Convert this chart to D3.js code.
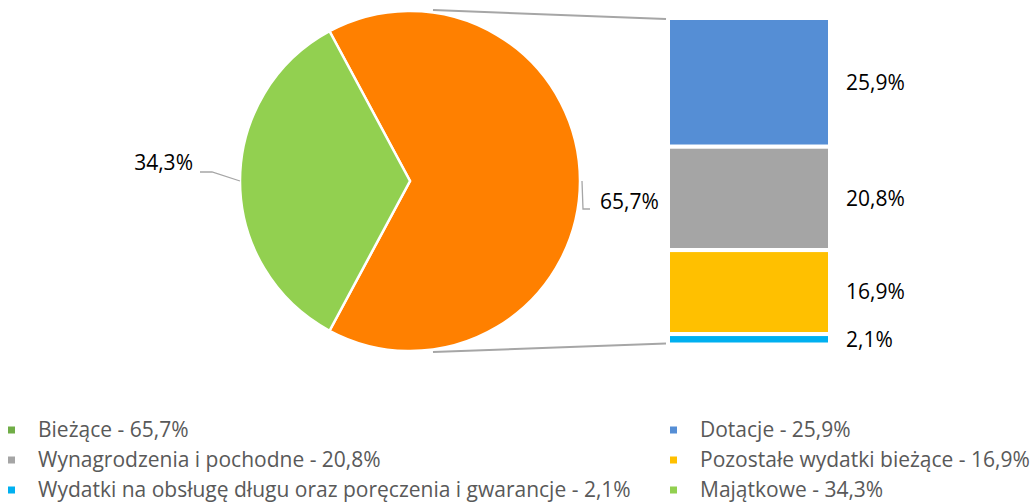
<!DOCTYPE html>
<html>
<head>
<meta charset="utf-8">
<script src="https://cdn.jsdelivr.net/npm/d3@7"></script>
<style>
  body { margin: 0; background: #fff; }
  text { font-family: "Open Sans", sans-serif; }
</style>
</head>
<body>
<svg width="1032" height="502"></svg>
<script>
// pie: Bieżące vs Majątkowe
const pie_names = ['Bieżące', 'Majątkowe'],
    pie_values = [65.7, 34.3],
    pie_colors = ['#ff8000', '#92d050']

// bar: breakdown of Bieżące
const bar_names = ['Dotacje', 'Wynagrodzenia i pochodne', 'Pozostałe wydatki bieżące',
        'Wydatki na obsługę długu oraz poręczenia i gwarancje'],
    bar_values = [25.9, 20.8, 16.9, 2.1],
    bar_colors = ['#558ed5', '#a5a5a5', '#ffc000', '#00b0f0']

// legend, in the order shown (two columns)
const legend_items = [
    { label: 'Bieżące - 65,7%', color: '#70ad47' },
    { label: 'Dotacje - 25,9%', color: '#558ed5' },
    { label: 'Wynagrodzenia i pochodne - 20,8%', color: '#a5a5a5' },
    { label: 'Pozostałe wydatki bieżące - 16,9%', color: '#ffc000' },
    { label: 'Wydatki na obsługę długu oraz poręczenia i gwarancje - 2,1%', color: '#00b0f0' },
    { label: 'Majątkowe - 34,3%', color: '#92d050' }
]

const fmt = (v) => d3.format('.1f')(v).replace('.', ',') + '%'
const line_color = '#a6a6a6',
    font_size = '21px'

const svg = d3.select('svg'),
    cx = 410, cy = 181, radius = 170

// ---- pie ----
// Majątkowe is centred on the left, Bieżące starts where it ends (top) and runs clockwise
const green_half = pie_values[1] / 100 * Math.PI
const start = -Math.PI / 2 + green_half
const arcs = d3.pie().sort(null)
    .startAngle(start)
    .endAngle(start + Math.PI * 2)
    .value((d) => d)(pie_values)

const arc = d3.arc().innerRadius(0).outerRadius(radius)
const g = svg.append('g').attr('transform', `translate(${cx},${cy})`)

g.selectAll('path.slice')
    .data(arcs)
    .enter().append('path')
    .attr('class', 'slice')
    .attr('d', arc)
    .style('fill', (d, i) => pie_colors[i])
    .style('stroke', 'white')
    .style('stroke-width', 2.5)

// pie labels with leader lines
const mid = (d) => (d.startAngle + d.endAngle) / 2
const px = (a, r) => Math.sin(a) * r, py = (a, r) => -Math.cos(a) * r

// Majątkowe (left)
{
    const a = mid(arcs[1]), x0 = px(a, radius), y0 = py(a, radius)
    g.append('path')
        .attr('d', `M${x0},${y0}L${x0 - 28},${y0 - 9}L${x0 - 40},${y0 - 9}`)
        .style('fill', 'none').style('stroke', line_color).style('stroke-width', 1.3)
    g.append('text')
        .attr('x', x0 - 47).attr('y', y0 - 18).attr('dy', '0.35em')
        .attr('text-anchor', 'end').style('font-size', font_size)
        .text(fmt(pie_values[1]))
}
// Bieżące (right)
{
    const a = mid(arcs[0]), x0 = px(a, radius), y0 = py(a, radius)
    g.append('path')
        .attr('d', `M${x0 + 2},${y0}L${x0 + 3},${y0 + 28}L${x0 + 10},${y0 + 28}`)
        .style('fill', 'none').style('stroke', line_color).style('stroke-width', 1.3)
    g.append('text')
        .attr('x', x0 + 20).attr('y', y0 + 21).attr('dy', '0.35em')
        .style('font-size', font_size)
        .text(fmt(pie_values[0]))
}

// ---- stacked bar ----
const bar_x = 668, bar_w = 162
const total = d3.sum(bar_values)
const yb = d3.scaleLinear().domain([0, total]).range([18, 344.5])
const cum = d3.cumsum(bar_values)
const segs = bar_values.map((v, i) => ({ v: v, y0: cum[i] - v, y1: cum[i], col: bar_colors[i] }))

svg.selectAll('rect.seg')
    .data(segs)
    .enter().append('rect')
    .attr('class', 'seg')
    .attr('x', bar_x).attr('width', bar_w)
    .attr('y', (d) => yb(d.y0))
    .attr('height', (d) => yb(d.y1) - yb(d.y0))
    .style('fill', (d) => d.col)
    .style('stroke', 'white')
    .style('stroke-width', 4)

svg.selectAll('text.seglabel')
    .data(segs)
    .enter().append('text')
    .attr('class', 'seglabel')
    .attr('x', bar_x + bar_w + 16)
    .attr('y', (d) => (yb(d.y0) + yb(d.y1)) / 2)
    .attr('dy', '0.35em')
    .style('font-size', font_size)
    .text((d) => fmt(d.v))

// connector lines pie -> bar
svg.append('line')
    .attr('x1', cx + 23).attr('y1', cy - radius - 1)
    .attr('x2', bar_x - 2).attr('y2', yb(0) + 1)
    .style('stroke', line_color).style('stroke-width', 2)
svg.append('line')
    .attr('x1', cx + 23).attr('y1', cy + radius + 1)
    .attr('x2', bar_x - 2).attr('y2', yb(total) - 1)
    .style('stroke', line_color).style('stroke-width', 2)

// ---- legend ----
const legend = svg.selectAll('g.legend')
    .data(legend_items)
    .enter().append('g')
    .attr('class', 'legend')
    .attr('transform', (d, i) => `translate(${i % 2 ? 670 : 8},${430 + Math.floor(i / 2) * 30})`)

legend.append('rect')
    .attr('x', 0).attr('y', -3.5).attr('width', 7).attr('height', 7)
    .style('fill', (d) => d.color)
legend.append('text')
    .attr('x', 30).attr('dy', '0.35em')
    .style('font-size', font_size)
    .style('fill', '#595959')
    .text((d) => d.label)
</script>
</body>
</html>
